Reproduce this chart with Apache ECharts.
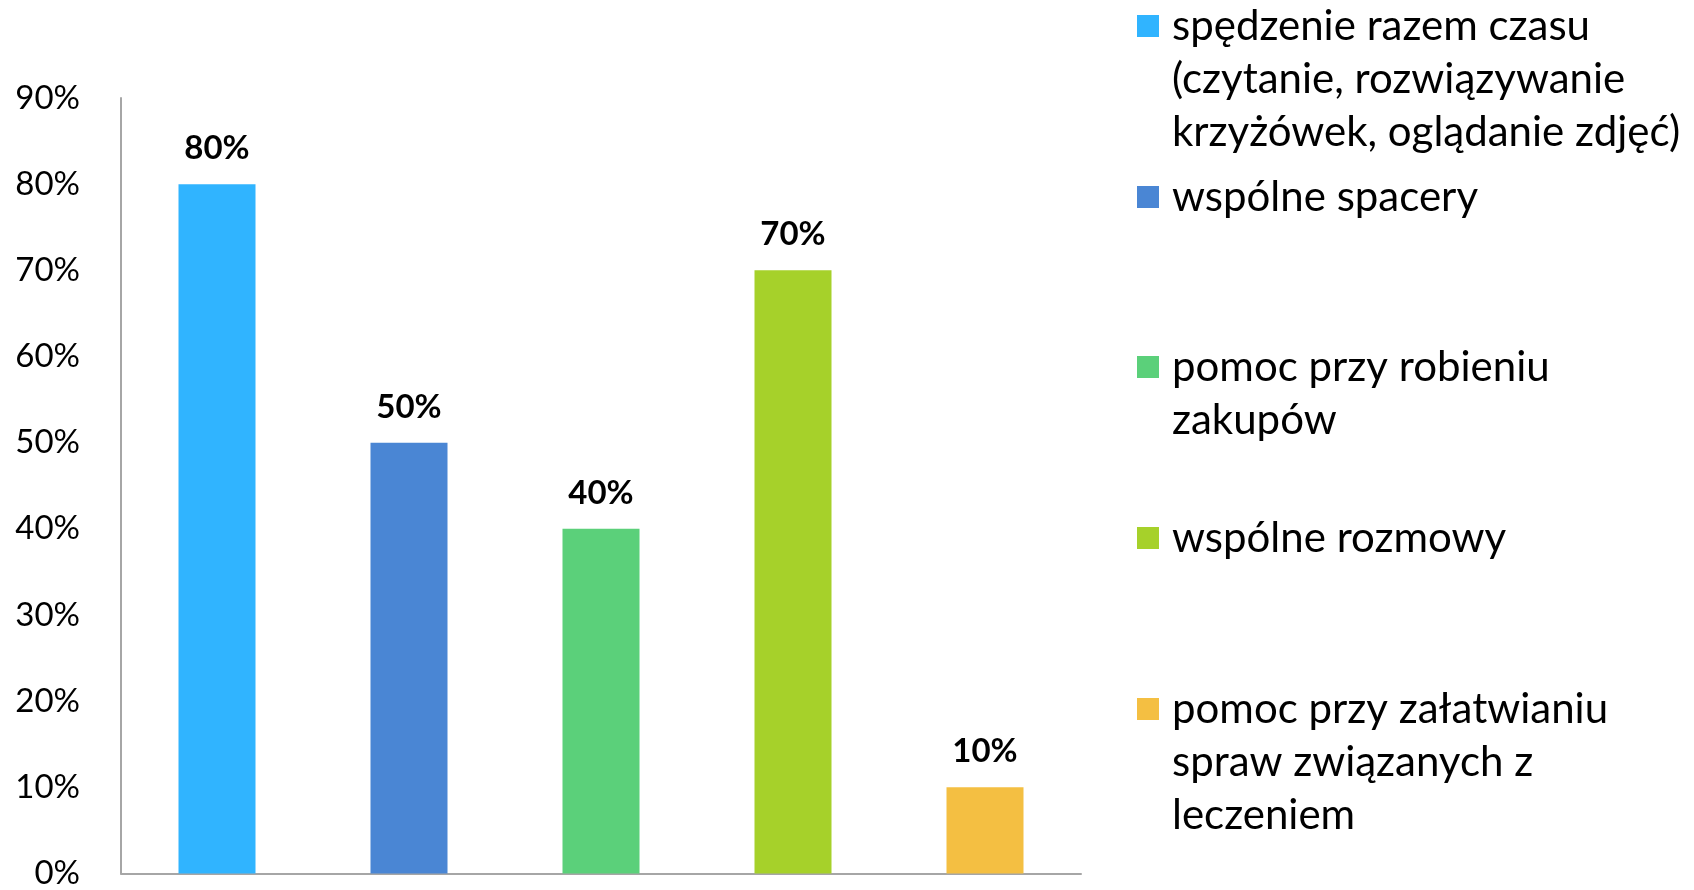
<!DOCTYPE html>
<html>
<head>
<meta charset="utf-8">
<script src="https://cdn.jsdelivr.net/npm/echarts@6/dist/echarts.min.js"></script>
<style>
  html, body { margin: 0; padding: 0; background: #fff; }
  #chart { width: 1694px; height: 890px; }
</style>
</head>
<body>
<div id="chart"></div>
<script>
// data
const categories = [
  'spędzenie razem czasu\n(czytanie, rozwiązywanie\nkrzyżówek, oglądanie zdjęć)',
  'wspólne spacery',
  'pomoc przy robieniu\nzakupów',
  'wspólne rozmowy',
  'pomoc przy załatwianiu\nspraw związanych z\nleczeniem'
];
const values = [80, 50, 40, 70, 10];
const colors = ['#30b4ff', '#4a86d4', '#5bd07a', '#a6d12a', '#f4bf42'];
const yTicks = [0, 10, 20, 30, 40, 50, 60, 70, 80, 90];

const FONT = 'Lato';
const LINE = 53;
// legend item centres (px) - icon sits on the first text line
const legendCentres = [26, 197, 367, 538, 709];

const chart = echarts.init(document.getElementById('chart'));

const legends = categories.map((name, i) => {
  const n = name.split('\n').length;
  return {
    data: [name],
    orient: 'vertical',
    left: 1137,
    top: legendCentres[i] - (2 * n - 1) * LINE / 2,
    padding: 0,
    icon: 'rect',
    itemWidth: 22,
    itemHeight: 22,
    selectedMode: false,
    // blank lines in front so the first real line lines up with the icon
    formatter: s => '\n'.repeat(n - 1) + s,
    textStyle: {
      color: '#000',
      fontFamily: FONT,
      fontSize: 42,
      lineHeight: LINE,
      padding: [0, 0, 0, 8]
    }
  };
});

const series = categories.map((name, i) => ({
  name: name,
  type: 'bar',
  stack: 'all',
  barWidth: 77,
  itemStyle: { color: colors[i] },
  data: values.map((v, j) => (j === i ? v : null)),
  label: {
    show: true,
    position: 'top',
    distance: 19,
    formatter: '{c}%',
    color: '#000',
    fontFamily: FONT,
    fontWeight: 'bold',
    fontSize: 33
  }
}));

chart.setOption({
  animation: false,
  backgroundColor: '#fff',
  legend: legends,
  grid: { left: 121, right: 613, top: 98, bottom: 14, containLabel: false },
  xAxis: {
    type: 'category',
    data: categories,
    axisLabel: { show: false },
    axisTick: { show: false },
    axisLine: { lineStyle: { color: '#a6a6a6', width: 2 } }
  },
  yAxis: {
    type: 'value',
    min: yTicks[0],
    max: yTicks[yTicks.length - 1],
    interval: 10,
    splitLine: { show: false },
    axisTick: { show: false },
    axisLine: { show: true, lineStyle: { color: '#a6a6a6', width: 2 } },
    axisLabel: {
      formatter: '{value}%',
      color: '#000',
      fontFamily: FONT,
      fontSize: 33,
      margin: 41
    }
  },
  series: series
});
</script>
</body>
</html>
